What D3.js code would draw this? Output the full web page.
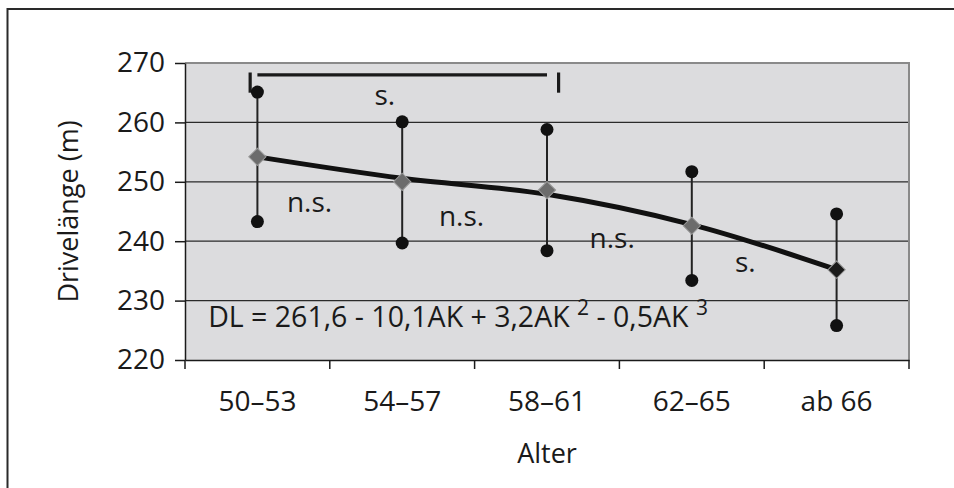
<!doctype html>
<html lang="de">
<head>
  <meta charset="utf-8">
  <script src="https://cdn.jsdelivr.net/npm/d3@7/dist/d3.min.js"></script>
</head>

<style>
    body {
        margin: 0;
        background: white;
        font-family: "Open Sans", "Noto Sans", sans-serif;
    }
    svg text {
        fill: #1a1a1a;
    }
</style>

<body>
<svg id="chart" width="954" height="488"></svg>
</body>

<script>

    // data
    let categories = ["50–53", "54–57", "58–61", "62–65", "ab 66"]
    let means  = [254.2, 250.0, 248.6, 242.6, 235.2]
    let upper  = [265.1, 260.1, 258.8, 251.7, 244.6]
    let lower  = [243.3, 239.7, 238.4, 233.4, 225.8]
    let fitted = [254.2, 250.6, 247.9, 242.8, 235.2]
    let yTicks = [220, 230, 240, 250, 260, 270]

    // significance labels: category position (fractional index) and value
    let sigText = ["s.", "n.s.", "n.s.", "n.s.", "s."]
    let sigPos  = [0.88, 0.36, 1.41, 2.45, 3.37]
    let sigVal  = [262.9, 244.9, 242.6, 238.9, 234.8]

    let svg = d3.select('#chart')

    let margin = {left: 185, top: 63, right: 45, bottom: 128}
    let width = 954 - margin.left - margin.right
    let height = 488 - margin.top - margin.bottom

    // outer frame (runs off right and bottom edge)
    svg.append('rect')
        .attr('x', 7.5).attr('y', 9)
        .attr('width', 1000).attr('height', 600)
        .attr('fill', 'none')
        .attr('stroke', '#2a2a2a')
        .attr('stroke-width', 2)

    let g = svg.append('g')
        .attr('transform', `translate(${margin.left},${margin.top})`)

    let x = d3.scaleBand().domain(categories).range([0, width])
    let xi = d3.scaleLinear().domain([-0.5, categories.length - 0.5]).range([0, width])
    let y = d3.scaleLinear().domain([220, 270]).range([height, 0])

    g.append('rect')
        .attr('width', width).attr('height', height)
        .attr('fill', '#dcdcde')

    // gridlines
    g.selectAll('.grid')
        .data(yTicks.slice(1, -1))
        .join('line')
        .attr('x1', 0).attr('x2', width)
        .attr('y1', d => y(d)).attr('y2', d => y(d))
        .attr('stroke', '#2a2a2a')
        .attr('stroke-width', 1.2)

    // top and right frame of plot area
    g.append('path')
        .attr('d', `M0,${y(270)}H${width}V${height}`)
        .attr('fill', 'none')
        .attr('stroke', '#8a8a8a')
        .attr('stroke-width', 2)

    // y axis
    let yAxis = g.append('g')
        .call(d3.axisLeft(y).tickValues(yTicks).tickSize(10).tickPadding(10).tickSizeOuter(0))
    yAxis.select('.domain').attr('stroke', '#1a1a1a').attr('stroke-width', 1.5)
    yAxis.selectAll('.tick line').attr('stroke', '#1a1a1a').attr('stroke-width', 1.5)
    yAxis.selectAll('.tick text')
        .attr('font-size', 28)
        .attr('font-family', '"Open Sans", sans-serif')
        .attr('fill', '#1a1a1a')

    // x axis: labels at band centres, ticks at band edges
    let xAxis = g.append('g')
        .attr('transform', `translate(0,${height})`)
        .call(d3.axisBottom(x).tickSize(0).tickPadding(31).tickSizeOuter(0))
    xAxis.select('.domain').attr('stroke', '#1a1a1a').attr('stroke-width', 1.5)
    xAxis.selectAll('.tick text')
        .attr('font-size', 28)
        .attr('font-family', '"Open Sans", sans-serif')
        .attr('fill', '#1a1a1a')

    let edges = categories.map(c => x(c)).concat([width])
    xAxis.selectAll('.edge')
        .data(edges)
        .join('line')
        .attr('x1', d => d).attr('x2', d => d)
        .attr('y1', 0).attr('y2', 9)
        .attr('stroke', '#1a1a1a')
        .attr('stroke-width', 1.5)

    // axis titles
    svg.append('text')
        .attr('transform', `translate(78,${margin.top + height / 2}) rotate(-90)`)
        .attr('text-anchor', 'middle')
        .attr('font-size', 27)
        .text('Drivelänge (m)')

    svg.append('text')
        .attr('x', margin.left + width / 2)
        .attr('y', 463)
        .attr('text-anchor', 'middle')
        .attr('font-size', 27)
        .text('Alter')

    // bracket between 50–53 and 58–61
    let bracket = g.append('g').attr('stroke', '#1a1a1a').attr('stroke-width', 3.2)
    bracket.append('line')
        .attr('x1', xi(0)).attr('x2', xi(2.0))
        .attr('y1', y(268)).attr('y2', y(268))
    bracket.append('line')
        .attr('x1', xi(-0.05)).attr('x2', xi(-0.05))
        .attr('y1', y(268.4)).attr('y2', y(265.0))
    bracket.append('line')
        .attr('x1', xi(2.08)).attr('x2', xi(2.08))
        .attr('y1', y(268.4)).attr('y2', y(265.0))

    // error bars
    g.selectAll('.err')
        .data(categories)
        .join('line')
        .attr('x1', (d, i) => xi(i)).attr('x2', (d, i) => xi(i))
        .attr('y1', (d, i) => y(upper[i])).attr('y2', (d, i) => y(lower[i]))
        .attr('stroke', '#222')
        .attr('stroke-width', 2)

    let ends = upper.map((v, i) => [i, v]).concat(lower.map((v, i) => [i, v]))
    g.selectAll('.end')
        .data(ends)
        .join('circle')
        .attr('cx', d => xi(d[0]))
        .attr('cy', d => y(d[1]))
        .attr('r', 6.5)
        .attr('fill', '#111')

    // fitted curve
    let line = d3.line()
        .x((d, i) => xi(i))
        .y(d => y(d))
        .curve(d3.curveMonotoneX)

    g.append('path')
        .datum(fitted)
        .attr('d', line)
        .attr('fill', 'none')
        .attr('stroke', '#111')
        .attr('stroke-width', 5)

    // means as diamonds
    g.selectAll('.mean')
        .data(means)
        .join('path')
        .attr('transform', (d, i) => `translate(${xi(i)},${y(d)}) rotate(45)`)
        .attr('d', d3.symbol().type(d3.symbolSquare).size(150))
        .attr('fill', (d, i) => i == means.length - 1 ? '#1a1a1a' : '#6c6c6c')
        .attr('stroke', '#9a9a9a')
        .attr('stroke-width', 1)

    // significance labels
    g.selectAll('.sig')
        .data(sigText)
        .join('text')
        .attr('x', (d, i) => xi(sigPos[i]))
        .attr('y', (d, i) => y(sigVal[i]))
        .attr('text-anchor', 'middle')
        .attr('font-size', 28)
        .text(d => d)

    // regression formula
    let formula = g.append('text')
        .attr('x', xi(-0.34))
        .attr('y', y(225.5))
        .attr('font-size', 28.5)
    formula.append('tspan').text('DL = 261,6 - 10,1AK + 3,2AK ')
    formula.append('tspan').attr('dy', -12).attr('font-size', 21).text('2')
    formula.append('tspan').attr('dy', 12).text(' - 0,5AK ')
    formula.append('tspan').attr('dy', -12).attr('font-size', 21).text('3')

</script>
</html>
